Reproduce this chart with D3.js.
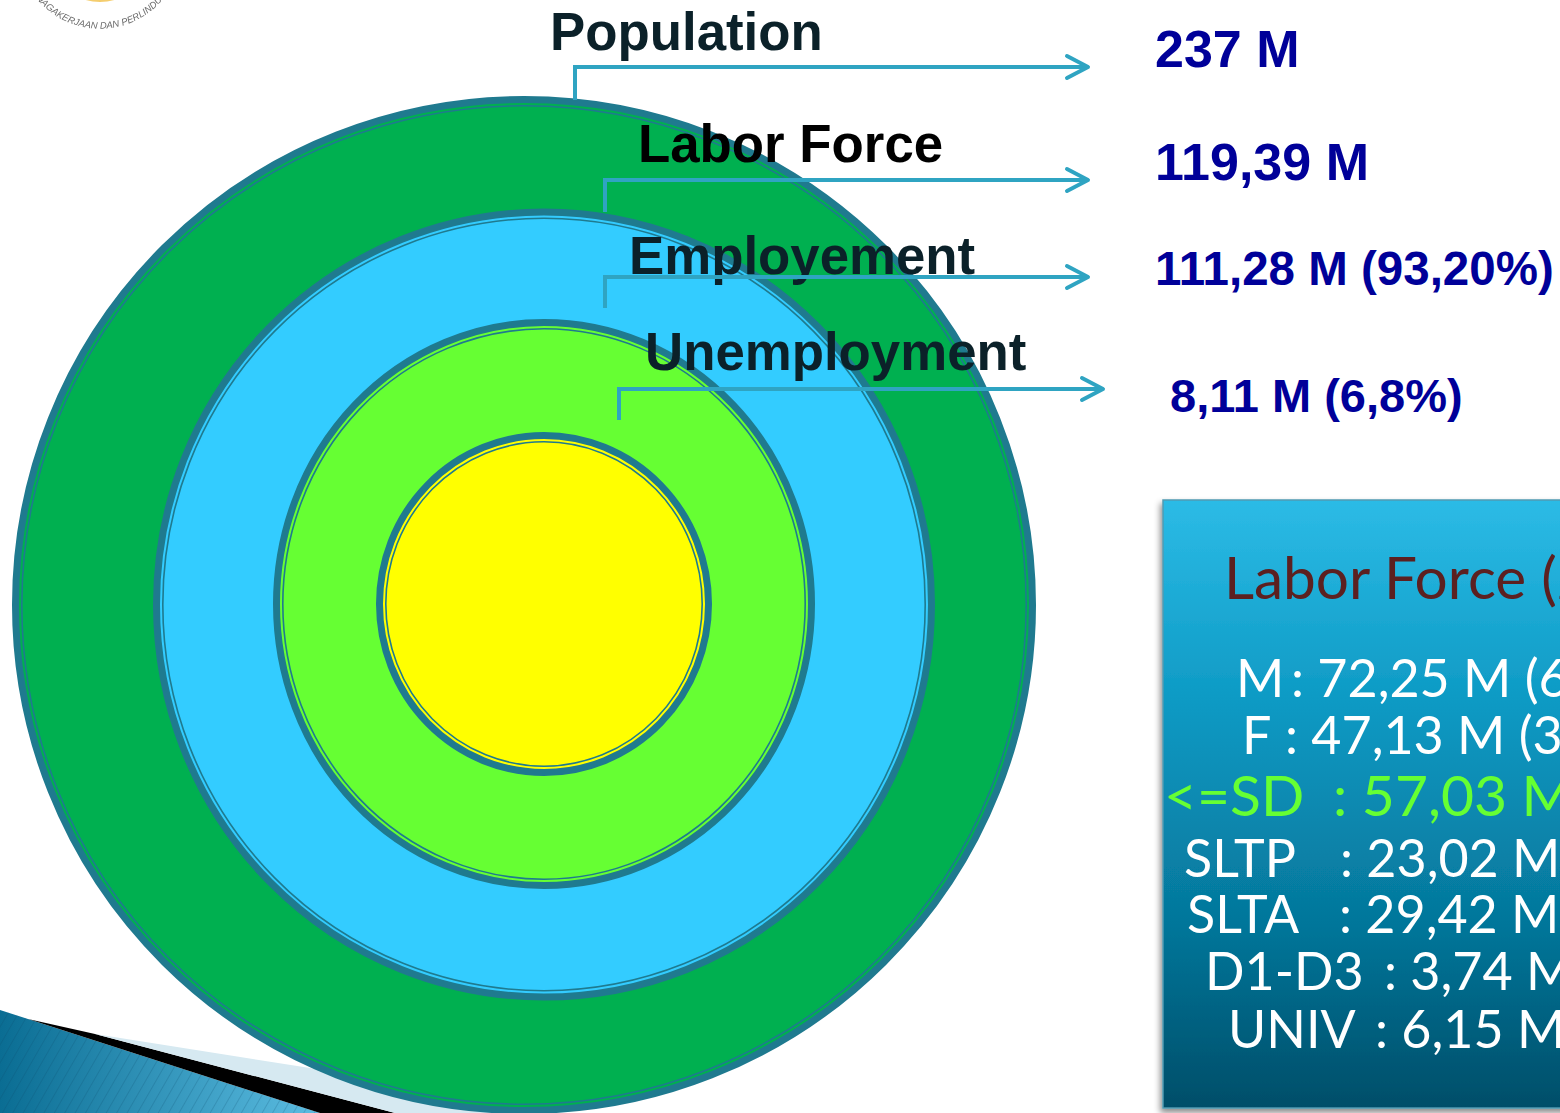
<!DOCTYPE html>
<html lang="en">
<head>
<meta charset="UTF-8">
<title>Labor Force</title>
<script src="https://d3js.org/d3.v7.min.js"></script>
<style>
  body { margin: 0; background: #fff; overflow: hidden; }
  svg { display: block; }
  .big { font-family: "Liberation Sans", Arial, sans-serif; font-weight: bold; }
  .box { font-family: Lato, "Open Sans", sans-serif; white-space: pre; }
</style>
</head>
<body>
<div id="chart"></div>
<script>
// data
var categories = ['Population', 'Labor Force', 'Employement', 'Unemployment'];
var totals = [237, 119.39, 111.28, 8.11];
var valueLabels = ['237 M', '119,39 M', '111,28 M (93,20%)', '8,11 M (6,8%)'];
var ringColors = ['#00b050', '#33ccff', '#66ff33', '#ffff00'];

var sexLabels = ['M', 'F'];
var sexValues = [72.25, 47.13];
var eduLabels = ['<=SD', 'SLTP', 'SLTA', 'D1-D3', 'UNIV'];
var eduValues = [57.03, 23.02, 29.42, 3.74, 6.15];

var W = 1560, H = 1113;
var teal = '#1f7a8f', lineCol = '#2fa4c2';

// ring geometry (ellipses, slightly off-round like the original slide)
var rings = [
    {cx: 524, cy: 605, rx: 512, ry: 509},
    {cx: 544, cy: 604.5, rx: 391, ry: 396},
    {cx: 544, cy: 604, rx: 271, ry: 285},
    {cx: 544, cy: 604, rx: 168, ry: 172}
];
// label / connector layout
var lab = [
    {x: 550, y: 50, col: '#0b2129', vx: 575, vb: 100, ly: 67, tip: 1088, tx: 1155, ty: 67, fs: 52},
    {x: 638, y: 162, col: '#000000', vx: 605, vb: 212, ly: 180, tip: 1088, tx: 1155, ty: 180, fs: 52},
    {x: 629, y: 274, col: '#0b2129', vx: 605, vb: 308, ly: 277, tip: 1088, tx: 1155, ty: 285, fs: 47.5},
    {x: 645, y: 370, col: '#0b2129', vx: 619, vb: 420, ly: 389, tip: 1103, tx: 1170, ty: 412, fs: 47}
];

var loc = d3.formatLocale({decimal: ',', thousands: '.', grouping: [3], currency: ['', '']});
var f2 = loc.format('.2f');
var pctFmt = loc.format('.2%');
var ringColor = d3.scaleOrdinal().domain(categories).range(ringColors);

var svg = d3.select('#chart').append('svg').attr('width', W).attr('height', H);
var defs = svg.append('defs');

// swoosh gradient + stripes
var sg = defs.append('linearGradient').attr('id', 'swoosh').attr('x1', 0).attr('x2', 1).attr('y1', 0).attr('y2', 0);
sg.append('stop').attr('offset', 0).attr('stop-color', '#0a6d93');
sg.append('stop').attr('offset', 1).attr('stop-color', '#5cbde2');
var pat = defs.append('pattern').attr('id', 'stripes').attr('width', 9).attr('height', 9)
    .attr('patternUnits', 'userSpaceOnUse').attr('patternTransform', 'rotate(30)');
pat.append('line').attr('x1', 0).attr('y1', 0).attr('x2', 0).attr('y2', 9)
    .attr('stroke', '#04476a').attr('stroke-width', 1.2).attr('opacity', 0.35);

var bg = defs.append('linearGradient').attr('id', 'boxg').attr('x1', 0).attr('x2', 0).attr('y1', 0).attr('y2', 1);
bg.append('stop').attr('offset', 0).attr('stop-color', '#2cbbe6');
bg.append('stop').attr('offset', 0.35).attr('stop-color', '#0c98c2');
bg.append('stop').attr('offset', 0.7).attr('stop-color', '#05769a');
bg.append('stop').attr('offset', 1).attr('stop-color', '#034e69');
var sh = defs.append('filter').attr('id', 'shadow').attr('x', '-10%').attr('y', '-10%').attr('width', '130%').attr('height', '130%');
sh.append('feDropShadow').attr('dx', -2).attr('dy', 4).attr('stdDeviation', 3)
    .attr('flood-color', '#000').attr('flood-opacity', 0.45);

// faded logo at the top left
var logo = svg.append('g').attr('opacity', 0.8);
logo.append('circle').attr('cx', 100).attr('cy', -50).attr('r', 52).attr('fill', '#f2c14a');
defs.append('path').attr('id', 'logoArc').attr('d', 'M 22,-28 A 82 82 0 0 0 178,-28');
logo.append('text').attr('font-family', 'Liberation Sans, Arial').attr('font-size', 9.5).attr('font-style', 'italic')
    .attr('fill', '#444').append('textPath').attr('href', '#logoArc').attr('startOffset', '50%')
    .attr('text-anchor', 'middle').text('KETENAGAKERJAAN DAN PERLINDUNGAN');

// bottom-left swoosh
var sw = svg.append('g');
sw.append('path').attr('d', 'M 0,1010 L 320,1113 L 0,1113 Z').attr('fill', 'url(#swoosh)');
sw.append('path').attr('d', 'M 0,1010 L 320,1113 L 0,1113 Z').attr('fill', 'url(#stripes)');
sw.append('path').attr('d', 'M 28,1019 L 95,1034 L 395,1113 L 320,1113 Z').attr('fill', '#000');
sw.append('path').attr('d', 'M 95,1034 L 310,1068 L 520,1113 L 395,1113 Z').attr('fill', '#d6e9f1');

// rings
var ringG = svg.append('g');
categories.forEach(function(c, i) {
    var r = rings[i];
    ringG.append('ellipse').attr('cx', r.cx).attr('cy', r.cy)
        .attr('rx', r.rx - 3.5).attr('ry', r.ry - 3.5)
        .attr('fill', ringColor(c)).attr('stroke', teal).attr('stroke-width', 7);
    ringG.append('ellipse').attr('cx', r.cx).attr('cy', r.cy)
        .attr('rx', r.rx - 9.8).attr('ry', r.ry - 9.8)
        .attr('fill', 'none').attr('stroke', teal).attr('stroke-width', 1.6);
});

// labels
svg.append('g').selectAll('text').data(categories).enter().append('text')
    .attr('class', 'big')
    .attr('x', function(d, i) { return lab[i].x; })
    .attr('y', function(d, i) { return lab[i].y; })
    .attr('font-size', 52.8)
    .attr('fill', function(d, i) { return lab[i].col; })
    .text(function(d) { return d; });

// connectors with open arrow heads
var con = svg.append('g').attr('fill', 'none').attr('stroke', lineCol).attr('stroke-width', 4);
lab.forEach(function(l) {
    con.append('path').attr('d', 'M' + l.vx + ',' + l.vb + 'V' + l.ly + 'H' + l.tip);
    con.append('path').attr('stroke-linecap', 'round').attr('stroke-linejoin', 'round')
        .attr('d', 'M' + (l.tip - 21) + ',' + (l.ly - 11) + 'L' + l.tip + ',' + l.ly + 'L' + (l.tip - 21) + ',' + (l.ly + 11));
});

// values
svg.append('g').selectAll('text').data(valueLabels).enter().append('text')
    .attr('class', 'big')
    .attr('x', function(d, i) { return lab[i].tx; })
    .attr('y', function(d, i) { return lab[i].ty; })
    .attr('font-size', function(d, i) { return lab[i].fs; })
    .attr('fill', '#000099')
    .text(function(d) { return d; });

// right info box
var box = svg.append('g');
box.append('rect').attr('x', 1163).attr('y', 500).attr('width', 440).attr('height', 608)
    .attr('fill', 'url(#boxg)').attr('stroke', '#4f9ab2').attr('stroke-width', 1.5)
    .attr('filter', 'url(#shadow)');

box.append('text').attr('class', 'box').attr('x', 1224).attr('y', 599)
    .attr('font-size', 58.5).attr('fill', '#5c2020').text('Labor Force (2011)');

var sexSum = d3.sum(sexValues);
var sexPos = [{x: 1236, cx: 1291, y: 697}, {x: 1242, cx: 1285, y: 754}];
sexLabels.forEach(function(s, i) {
    var p = sexPos[i];
    box.append('text').attr('class', 'box').attr('x', p.x).attr('y', p.y)
        .attr('font-size', 52).attr('fill', '#fff').text(s);
    box.append('text').attr('class', 'box').attr('x', p.cx).attr('y', p.y)
        .attr('font-size', 52).attr('fill', '#fff')
        .text(': ' + f2(sexValues[i]) + ' M (' + pctFmt(sexValues[i] / sexSum) + ')');
});

var eduPos = [
    {x: 1164, cx: 1333, y: 816, fs: 57, col: '#66ff33'},
    {x: 1184, cx: 1340, y: 877, fs: 52, col: '#fff'},
    {x: 1187, cx: 1339, y: 933, fs: 52, col: '#fff'},
    {x: 1205, cx: 1384, y: 990, fs: 52, col: '#fff'},
    {x: 1228, cx: 1375, y: 1048, fs: 52, col: '#fff'}
];
eduLabels.forEach(function(e, i) {
    var p = eduPos[i];
    box.append('text').attr('class', 'box').attr('x', p.x).attr('y', p.y)
        .attr('font-size', p.fs).attr('fill', p.col).text(e);
    box.append('text').attr('class', 'box').attr('x', p.cx).attr('y', p.y)
        .attr('font-size', p.fs).attr('fill', p.col)
        .text(': ' + f2(eduValues[i]) + ' M');
});
</script>
</body>
</html>
